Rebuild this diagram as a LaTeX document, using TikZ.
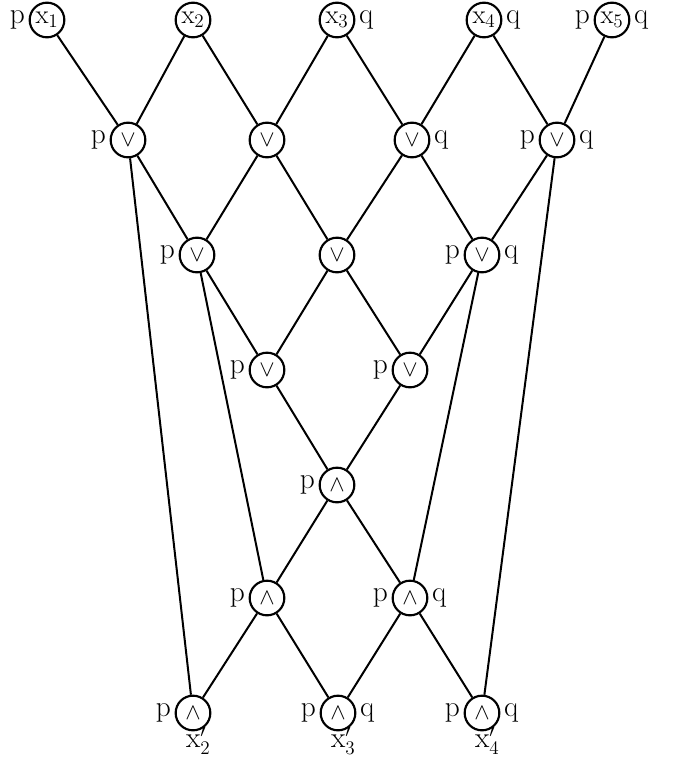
\documentclass[tikz,border=0pt]{standalone}
\usepackage{fontspec}
\usepackage{amsmath}
\usepackage{tikz}

\tikzset{
  gate/.style={draw, circle, line width=1.6pt, minimum size=26pt, inner sep=0pt,
    font=\fontsize{20}{22}\selectfont},
  op/.style={font=\fontsize{17}{19}\selectfont},
  every label/.style={font=\fontsize{22}{24}\selectfont, label distance=1pt, inner sep=1pt},
}

\begin{document}
\begin{tikzpicture}[x=0.75pt, y=-0.75pt, line width=1.5pt]
        \useasboundingbox (0,0) rectangle (672,757);
        % input row
        \node[gate, label=left:p] (x1) at (47,20) {x$_1$};
        \node[gate] (x2) at (193,20) {x$_2$};
        \node[gate, label=right:q] (x3) at (337,20) {x$_3$};
        \node[gate, label=right:q] (x4) at (484,20) {x$_4$};
        \node[gate, label=left:p, label=right:q] (x5) at (612,20) {x$_5$};
        % or gates
        \node[gate, op, label=left:p] (o1a) at (128,140) {$\vee$};
        \node[gate, op] (o1b) at (267,140) {$\vee$};
        \node[gate, op, label=right:q] (o1c) at (412,140) {$\vee$};
        \node[gate, op, label=left:p, label=right:q] (o1d) at (557,140) {$\vee$};
        \node[gate, op, label=left:p] (o2a) at (197,255) {$\vee$};
        \node[gate, op] (o2b) at (337,255) {$\vee$};
        \node[gate, op, label=left:p, label=right:q] (o2c) at (482,255) {$\vee$};
        \node[gate, op, label=left:p] (o3a) at (267,370) {$\vee$};
        \node[gate, op, label=left:p] (o3b) at (410,370) {$\vee$};
        % and gates
        \node[gate, op, label=left:p] (a4) at (337,485) {$\wedge$};
        \node[gate, op, label=left:p] (a5a) at (267,598) {$\wedge$};
        \node[gate, op, label=left:p, label=right:q] (a5b) at (410,598) {$\wedge$};
        \node[gate, op, label=left:p, label={[label distance=-5pt, xshift=4pt]below:x$'_2$}] (a6a) at (193,713) {$\wedge$};
        \node[gate, op, label=left:p, label=right:q, label={[label distance=-5pt, xshift=4pt]below:x$'_3$}] (a6b) at (338,713) {$\wedge$};
        \node[gate, op, label=left:p, label=right:q, label={[label distance=-5pt, xshift=4pt]below:x$'_4$}] (a6c) at (482,713) {$\wedge$};
        % wires
        \draw (x1) -- (o1a);
        \draw (x2) -- (o1a);
        \draw (x2) -- (o1b);
        \draw (x3) -- (o1b);
        \draw (x3) -- (o1c);
        \draw (x4) -- (o1c);
        \draw (x4) -- (o1d);
        \draw (x5) -- (o1d);
        \draw (o1a) -- (o2a);
        \draw (o1b) -- (o2a);
        \draw (o1b) -- (o2b);
        \draw (o1c) -- (o2b);
        \draw (o1c) -- (o2c);
        \draw (o1d) -- (o2c);
        \draw (o2a) -- (o3a);
        \draw (o2b) -- (o3a);
        \draw (o2b) -- (o3b);
        \draw (o2c) -- (o3b);
        \draw (o3a) -- (a4);
        \draw (o3b) -- (a4);
        \draw (a4) -- (a5a);
        \draw (a4) -- (a5b);
        \draw (a5a) -- (a6a);
        \draw (a5a) -- (a6b);
        \draw (a5b) -- (a6b);
        \draw (a5b) -- (a6c);
        % long wires
        \draw (o1a) -- (a6a);
        \draw (o1d) -- (a6c);
        \draw (o2a) -- (a5a);
        \draw (o2c) -- (a5b);
    \end{tikzpicture}
\end{document}
